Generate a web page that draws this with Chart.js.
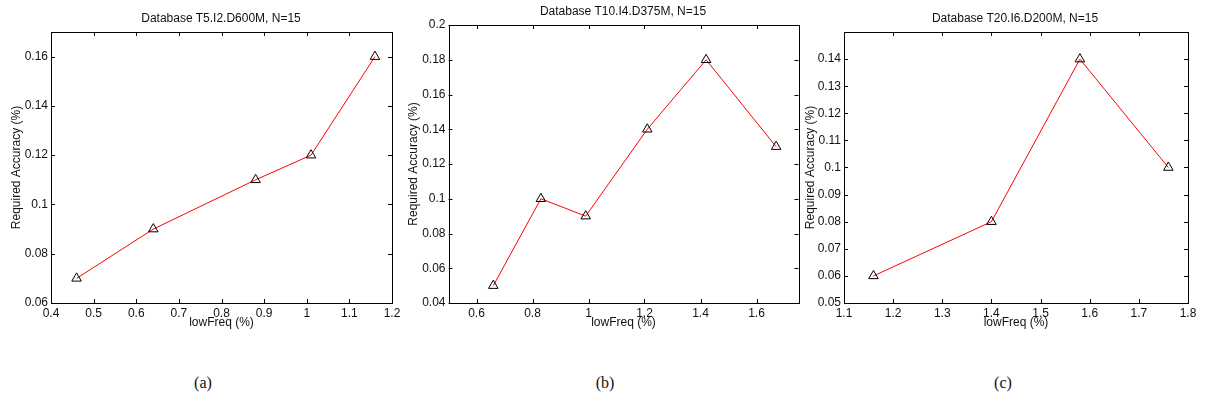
<!DOCTYPE html>
<html>
<head>
<meta charset="utf-8">
<script src="https://cdn.jsdelivr.net/npm/chart.js@4"></script>
<style>
  body { margin: 0; background: #fff; }
  #wrap { position: relative; width: 1206px; height: 403px; overflow: hidden; }
  canvas { position: absolute; top: 0; }
  .ttl { position: absolute; font: 12px "Liberation Sans", Arial, sans-serif; color: #111;
         transform: translate(-50%, -50%); white-space: nowrap; }
  .cap { position: absolute; font: 16px "Liberation Serif", "DejaVu Serif", serif; color: #111;
         transform: translate(-50%, -50%); }
</style>
</head>
<body>
<div id="wrap">
  <canvas id="chartA" width="400" height="330" style="left:0px"></canvas>
  <canvas id="chartB" width="405" height="330" style="left:400px"></canvas>
  <canvas id="chartC" width="406" height="330" style="left:800px"></canvas>
  <div class="ttl" style="left:221px;top:18px">Database T5.I2.D600M, N=15</div>
  <div class="ttl" style="left:623px;top:11px">Database T10.I4.D375M, N=15</div>
  <div class="ttl" style="left:1015px;top:18px">Database T20.I6.D200M, N=15</div>
  <div class="cap" style="left:203px;top:383px">(a)</div>
  <div class="cap" style="left:605px;top:383px">(b)</div>
  <div class="cap" style="left:1003px;top:383px">(c)</div>
</div>
<script>
// values
var freqA = [0.46, 0.64, 0.88, 1.01, 1.16];
var accA = [0.07, 0.09, 0.11, 0.12, 0.16];
var freqB = [0.66, 0.83, 0.99, 1.21, 1.42, 1.67];
var accB = [0.05, 0.10, 0.09, 0.14, 0.18, 0.13];
var freqC = [1.16, 1.40, 1.58, 1.76];
var accC = [0.06, 0.08, 0.14, 0.10];

var xTicksA = [0.4, 0.5, 0.6, 0.7, 0.8, 0.9, 1, 1.1, 1.2];
var yTicksA = [0.06, 0.08, 0.1, 0.12, 0.14, 0.16];
var xTicksB = [0.6, 0.8, 1, 1.2, 1.4, 1.6];
var yTicksB = [0.04, 0.06, 0.08, 0.1, 0.12, 0.14, 0.16, 0.18, 0.2];
var xTicksC = [1.1, 1.2, 1.3, 1.4, 1.5, 1.6, 1.7, 1.8];
var yTicksC = [0.05, 0.06, 0.07, 0.08, 0.09, 0.1, 0.11, 0.12, 0.13, 0.14];

var FONT = { family: '"Liberation Sans", Arial, sans-serif', size: 12 };

// matlab style box with inward ticks on every side
var boxPlugin = {
    id: 'box',
    afterDraw: function (chart) {
        var a = chart.chartArea, ctx = chart.ctx, t = 4;
        var xs = chart.scales.x, ys = chart.scales.y;
        ctx.save();
        ctx.strokeStyle = '#000';
        ctx.lineWidth = 1;
        ctx.strokeRect(Math.round(a.left) + 0.5, Math.round(a.top) + 0.5,
            Math.round(a.right - a.left), Math.round(a.bottom - a.top));
        ctx.beginPath();
        xs.ticks.forEach(function (tk) {
            var px = Math.round(xs.getPixelForValue(tk.value)) + 0.5;
            ctx.moveTo(px, a.bottom); ctx.lineTo(px, a.bottom - t);
            ctx.moveTo(px, a.top); ctx.lineTo(px, a.top + t);
        });
        ys.ticks.forEach(function (tk) {
            var py = Math.round(ys.getPixelForValue(tk.value)) + 0.5;
            ctx.moveTo(a.left, py); ctx.lineTo(a.left + t, py);
            ctx.moveTo(a.right, py); ctx.lineTo(a.right - t, py);
        });
        ctx.stroke();
        ctx.restore();
    }
};

function makeChart(id, xs, ys, xMin, xMax, yMin, yMax, xTicks, yTicks, lay) {
    new Chart(document.getElementById(id), {
        type: 'line',
        data: {
            datasets: [{
                data: xs.map(function (v, i) { return { x: v, y: ys[i] }; }),
                borderColor: '#ff0000',
                borderWidth: 1,
                pointStyle: 'triangle',
                pointRadius: 5.5,
                pointBorderColor: '#000',
                pointBackgroundColor: 'rgba(0,0,0,0)',
                pointBorderWidth: 1,
                tension: 0
            }]
        },
        options: {
            responsive: false,
            animation: false,
            devicePixelRatio: 1,
            layout: { padding: { left: lay.left, right: lay.right, top: lay.top, bottom: 0 } },
            plugins: { legend: { display: false }, tooltip: { enabled: false } },
            scales: {
                x: {
                    type: 'linear', min: xMin, max: xMax,
                    grid: { display: false, drawTicks: false }, border: { display: false },
                    afterBuildTicks: function (s) { s.ticks = xTicks.map(function (v) { return { value: v }; }); },
                    afterFit: function (s) { s.height = 27; s.paddingLeft = 0; s.paddingRight = 0; },
                    ticks: { color: '#111', font: FONT, padding: 3, maxRotation: 0, autoSkip: false,
                             callback: function (v) { return String(v); } },
                    title: { display: true, text: 'lowFreq (%)', color: '#111', font: FONT, padding: 0 }
                },
                y: {
                    type: 'linear', min: yMin, max: yMax,
                    grid: { display: false, drawTicks: false }, border: { display: false },
                    afterBuildTicks: function (s) { s.ticks = yTicks.map(function (v) { return { value: v }; }); },
                    afterFit: function (s) { s.width = lay.yw; s.paddingTop = 0; s.paddingBottom = 0; },
                    ticks: { color: '#111', font: FONT, padding: 3, autoSkip: false,
                             callback: function (v) { return String(v); } },
                    title: { display: true, text: 'Required Accuracy (%)', color: '#111', font: FONT, padding: 0 }
                }
            }
        },
        plugins: [boxPlugin]
    });
}

makeChart('chartA', freqA, accA, 0.4, 1.2, 0.06, 0.17, xTicksA, yTicksA,
    { left: 9.5, right: 8, top: 32, yw: 41.5 });
makeChart('chartB', freqB, accB, 0.5, 1.75, 0.04, 0.2, xTicksB, yTicksB,
    { left: 6, right: 5, top: 25, yw: 42.5 });
makeChart('chartC', freqC, accC, 1.1, 1.8, 0.05, 0.15, xTicksC, yTicksC,
    { left: 3, right: 18, top: 32, yw: 41 });
</script>
</body>
</html>
